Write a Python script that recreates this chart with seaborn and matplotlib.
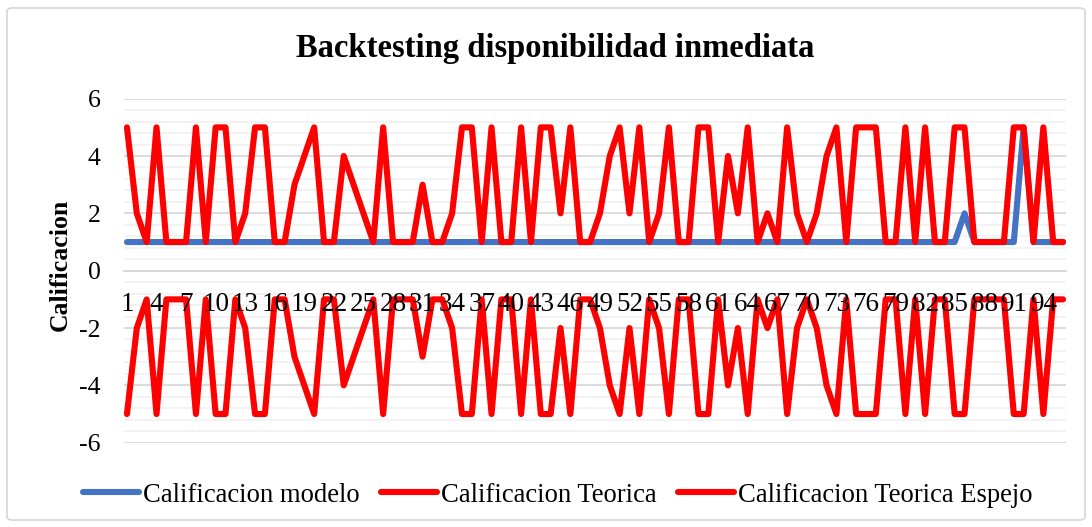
import numpy as np
import pandas as pd
import seaborn as sns
import matplotlib.pyplot as plt
from matplotlib.patches import FancyBboxPatch
from matplotlib.ticker import MultipleLocator

# datos (96 periodos)
periodos = list(range(1, 97))
calif_teorica = [5, 2, 1, 5, 1, 1, 1, 5, 1, 5, 5, 1, 2, 5, 5, 1, 1, 3, 4, 5,
                 1, 1, 4, 3, 2, 1, 5, 1, 1, 1, 3, 1, 1, 2, 5, 5, 1, 5, 1, 1,
                 5, 1, 5, 5, 2, 5, 1, 1, 2, 4, 5, 2, 5, 1, 2, 5, 1, 1, 5, 5,
                 1, 4, 2, 5, 1, 2, 1, 5, 2, 1, 2, 4, 5, 1, 5, 5, 5, 1, 1, 5,
                 1, 5, 1, 1, 5, 5, 1, 1, 1, 1, 5, 5, 1, 5, 1, 1]
calif_modelo = [1] * 96
calif_modelo[85] = 2   # periodo 86
calif_modelo[91] = 5   # periodo 92
calif_espejo = [-v for v in calif_teorica]

series = ['Calificacion modelo', 'Calificacion Teorica', 'Calificacion Teorica Espejo']
colores = {'Calificacion modelo': '#4472C4',
           'Calificacion Teorica': '#FF0000',
           'Calificacion Teorica Espejo': '#FF0000'}

df = pd.DataFrame({
    'periodo': periodos * 3,
    'valor': calif_modelo + calif_teorica + calif_espejo,
    'serie': [series[0]] * 96 + [series[1]] * 96 + [series[2]] * 96,
})

sns.set_style('white')
plt.rcParams['font.family'] = ['Liberation Serif', 'DejaVu Serif']
plt.rcParams['axes.unicode_minus'] = False
plt.rcParams['text.color'] = 'black'
plt.rcParams['xtick.color'] = 'black'
plt.rcParams['ytick.color'] = 'black'
plt.rcParams['axes.labelcolor'] = 'black'

fig = plt.figure(figsize=(10.92, 5.27), dpi=100)
ax = fig.add_axes([124 / 1092, 1 - 442.7 / 527, 942 / 1092, 344 / 527])

sns.lineplot(data=df, x='periodo', y='valor', hue='serie', hue_order=series,
             palette=colores, linewidth=4.4, ax=ax, legend=True,
             solid_capstyle='round', solid_joinstyle='round')
# el modelo va detras
for ln in ax.lines:
    ln.set_zorder(2 if ln.get_label() == series[0] else 3)

ax.set_ylim(-6, 6)
ax.set_xlim(0.7, 96.3)
ax.yaxis.set_major_locator(MultipleLocator(2))
ax.yaxis.set_minor_locator(MultipleLocator(0.4))
ax.grid(axis='y', which='major', color='#d9d9d9', linewidth=1.3, zorder=0)
ax.grid(axis='y', which='minor', color='#f2f2f2', linewidth=1.3, zorder=0)
ax.set_axisbelow(True)

ax.set_xticks(periodos[::3])
ax.set_xticklabels([str(p) for p in periodos[::3]])
for s in ['top', 'right', 'left']:
    ax.spines[s].set_visible(False)
ax.spines['bottom'].set_position(('data', 0))
ax.spines['bottom'].set_color('#d9d9d9')
ax.spines['bottom'].set_linewidth(1.3)
ax.spines['bottom'].set_zorder(1)
ax.tick_params(axis='x', length=0, pad=15, labelsize=19.5)
ax.tick_params(axis='y', which='both', length=0, pad=17, labelsize=18.5)
# etiquetas del eje x por encima de las lineas
ax.xaxis.set_zorder(5)

ax.set_xlabel('')
ax.set_ylabel('Calificacion', fontsize=18.5, fontweight='bold')
ax.yaxis.set_label_coords(-0.055, 0.517)

fig.text(555 / 1092, 1 - 48 / 527, 'Backtesting disponibilidad inmediata',
         ha='center', va='center', fontsize=23.5, fontweight='bold')

handles, labels = ax.get_legend_handles_labels()
ax.get_legend().remove()
fig.legend(handles, labels, loc='center', ncol=3, frameon=False,
           bbox_to_anchor=(558 / 1092, 1 - 495 / 527), fontsize=19.2,
           handlelength=2.1, handletextpad=0.15, columnspacing=0.8)

# borde del grafico
fig.patches.append(FancyBboxPatch((7 / 1092, 7 / 527), 1078 / 1092, 512 / 527,
                                  boxstyle='round,pad=0,rounding_size=0.006',
                                  transform=fig.transFigure, fill=False,
                                  edgecolor='#d9d9d9', linewidth=1.3))

fig.savefig('out.png', dpi=100)
